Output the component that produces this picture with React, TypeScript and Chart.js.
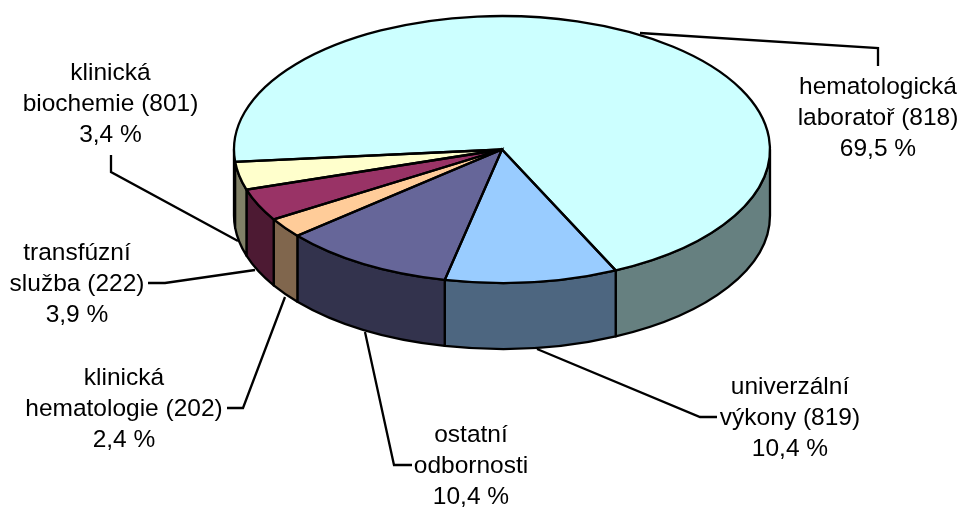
import React, { useEffect, useRef } from "react";
import { Chart, registerables } from "chart.js";

Chart.register(...registerables);

const categories = [
  "hematologická laboratoř (818)",
  "univerzální výkony (819)",
  "ostatní odbornosti",
  "klinická hematologie (202)",
  "transfúzní služba (222)",
  "klinická biochemie (801)",
];
const shares = [69.5, 10.4, 10.4, 2.4, 3.9, 3.4];
const topColors = ["#CCFFFF", "#99CCFF", "#666699", "#FFCC99", "#993366", "#FFFFCC"];
const sideColors = ["#668080", "#4D6680", "#33334D", "#80664D", "#4D1A33", "#808066"];

const labelLines = [
  ["hematologická", "laboratoř (818)", "69,5 %"],
  ["univerzální", "výkony (819)", "10,4 %"],
  ["ostatní", "odbornosti", "10,4 %"],
  ["klinická", "hematologie (202)", "2,4 %"],
  ["transfúzní", "služba (222)", "3,9 %"],
  ["klinická", "biochemie (801)", "3,4 %"],
];
const labelAnchors = [
  [878, 94],
  [790, 394],
  [471, 442],
  [124, 385],
  [77, 260],
  [110.5, 80],
];
const leaders = [
  [[640, 33], [878, 48], [878, 66]],
  [[537, 349], [700, 417], [717, 417]],
  [[365, 332], [394, 465], [412, 465]],
  [[285, 297], [243, 408], [227, 408]],
  [[255, 270], [165, 283], [148, 283]],
  [[238, 241], [111, 172], [111, 155]],
];

const RX = 268;
const RY = 133.5;
const DEPTH = 66;
const LINE = 2.3;
const LINE_HEIGHT = 31;

function normalise(a: number) {
  const t = Math.PI * 2;
  return ((a % t) + t) % t;
}

const pie3d = {
  id: "pie3d",
  beforeDatasetDraw(chart: any) {
    const ctx = chart.ctx;
    const arcs = chart.getDatasetMeta(0).data;
    const { x: cx, y: cy } = arcs[0];
    // walls of the disc, taken from each arc's own angles
    arcs.forEach((arc: any, i: number) => {
      const parts: [number, number][] = [];
      const start = normalise(arc.startAngle);
      const end = start + (arc.endAngle - arc.startAngle);
      for (const off of [0, Math.PI * 2]) {
        const s = Math.max(start, off);
        const e = Math.min(end, off + Math.PI);
        if (e > s) parts.push([s, e]);
      }
      parts.forEach(([s, e]) => {
        ctx.beginPath();
        ctx.ellipse(cx, cy, RX, RY, 0, s, e);
        ctx.ellipse(cx, cy + DEPTH, RX, RY, 0, e, s, true);
        ctx.closePath();
        ctx.fillStyle = sideColors[i];
        ctx.fill();
        ctx.lineWidth = LINE;
        ctx.lineJoin = "round";
        ctx.strokeStyle = "#000";
        ctx.stroke();
      });
    });
    ctx.save();
    ctx.translate(cx, cy);
    ctx.scale(1, RY / RX);
    ctx.translate(-cx, -cy);
  },
  afterDatasetDraw(chart: any) {
    const ctx = chart.ctx;
    ctx.restore();
    const arcs = chart.getDatasetMeta(0).data;
    arcs.forEach((arc: any) => {
      ctx.beginPath();
      ctx.moveTo(arc.x, arc.y);
      ctx.ellipse(arc.x, arc.y, RX, RY, 0, arc.startAngle, arc.endAngle);
      ctx.closePath();
      ctx.lineWidth = LINE;
      ctx.lineJoin = "miter";
      ctx.strokeStyle = "#000";
      ctx.stroke();
    });
    leaders.forEach((pts) => {
      ctx.beginPath();
      pts.forEach(([x, y], i) => (i ? ctx.lineTo(x, y) : ctx.moveTo(x, y)));
      ctx.lineWidth = LINE;
      ctx.lineJoin = "miter";
      ctx.strokeStyle = "#000";
      ctx.stroke();
    });
    ctx.font = '24.5px "Liberation Sans", Arial, sans-serif';
    ctx.fillStyle = "#000";
    ctx.textAlign = "center";
    ctx.textBaseline = "alphabetic";
    labelLines.forEach((lines, i) => {
      const [x, y] = labelAnchors[i];
      lines.forEach((t, j) => ctx.fillText(t, x, y + j * LINE_HEIGHT));
    });
  },
};

export default function App() {
  const ref = useRef<HTMLCanvasElement>(null);
  useEffect(() => {
    document.body.style.margin = "0";
    const chart = new Chart(ref.current!, {
      type: "pie",
      data: {
        labels: categories,
        datasets: [
          {
            data: shares,
            backgroundColor: topColors,
            borderWidth: 0,
            clip: false,
          } as any,
        ],
      },
      options: {
        responsive: false,
        animation: false,
        radius: RX,
        rotation: 264.7,
        layout: { padding: { left: 41, right: 0, top: 0, bottom: 209 } },
        plugins: { legend: { display: false }, tooltip: { enabled: false } },
      } as any,
      plugins: [pie3d],
    });
    return () => chart.destroy();
  }, []);
  return <canvas ref={ref} width={963} height={508} style={{ display: "block", background: "#fff" }} />;
}
